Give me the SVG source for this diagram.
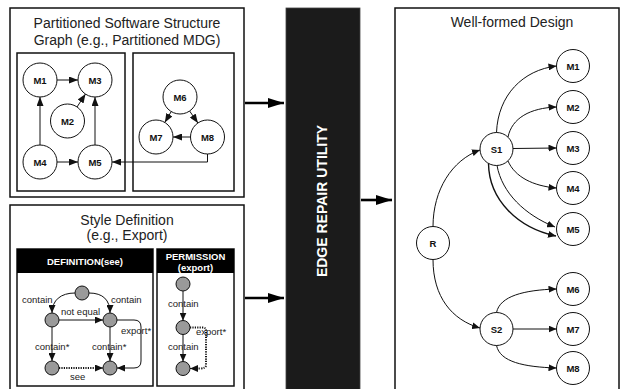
<svg xmlns="http://www.w3.org/2000/svg" width="620" height="389" viewBox="0 0 620 389">
  <style>
    .frame { fill: #fff; stroke: #111; stroke-width: 1.5; }
    .title { font-family: "Liberation Sans", Arial, sans-serif; font-size: 14px; fill: #222; text-anchor: middle; }
    .node circle { fill: #fff; stroke: #111; stroke-width: 1; }
    .node text { font-family: "Liberation Sans", Arial, sans-serif; font-size: 9.5px; font-weight: bold; fill: #111; text-anchor: middle; }
    .gnode { fill: #9a9a9a; stroke: #111; stroke-width: 1; }
    .edge { fill: none; stroke: #111; stroke-width: 1; }
    .dot { fill: none; stroke: #111; stroke-width: 2; stroke-dasharray: 1.2 1.2; }
    .big { fill: none; stroke: #000; stroke-width: 2.6; }
    .lbl { font-family: "Liberation Sans", Arial, sans-serif; font-size: 9.5px; fill: #222; }
    .hdr { font-family: "Liberation Sans", Arial, sans-serif; font-size: 9.5px; font-weight: bold; fill: #fff; text-anchor: middle; }
  </style>
  <defs>
    <marker id="arr" markerUnits="userSpaceOnUse" markerWidth="9" markerHeight="7" refX="9" refY="3.5" orient="auto">
      <path d="M0,0 L9,3.5 L0,7 z" fill="#111"/>
    </marker>
    <marker id="arrS" markerUnits="userSpaceOnUse" markerWidth="8" markerHeight="7" refX="8" refY="3.5" orient="auto">
      <path d="M0,0 L8,3.5 L0,7 z" fill="#111"/>
    </marker>
    <marker id="arrB" markerUnits="userSpaceOnUse" markerWidth="16" markerHeight="10" refX="16" refY="5" orient="auto">
      <path d="M0,0 L16,5 L0,10 z" fill="#000"/>
    </marker>
  </defs>

  <!-- Panel: partitioned structure graph -->
  <g id="panel-mdg">
    <rect class="frame" x="10" y="8" width="234" height="189"/>
    <text class="title" x="127" y="28">Partitioned Software Structure</text>
    <text class="title" x="127" y="45">Graph (e.g., Partitioned MDG)</text>
    <rect class="frame" x="17" y="53" width="108" height="138"/>
    <rect class="frame" x="133" y="53" width="101" height="138"/>
  </g>
  <g id="p-m1" class="node"><circle cx="40" cy="80" r="17"/><text x="40" y="83.5">M1</text></g>
  <g id="p-m2" class="node"><circle cx="67.5" cy="121" r="17"/><text x="67.5" y="124.5">M2</text></g>
  <g id="p-m3" class="node"><circle cx="95" cy="80" r="17"/><text x="95" y="83.5">M3</text></g>
  <g id="p-m4" class="node"><circle cx="40" cy="162" r="17"/><text x="40" y="165.5">M4</text></g>
  <g id="p-m5" class="node"><circle cx="95" cy="162" r="17"/><text x="95" y="165.5">M5</text></g>
  <g id="p-m6" class="node"><circle cx="180" cy="97" r="17"/><text x="180" y="100.5">M6</text></g>
  <g id="p-m7" class="node"><circle cx="156" cy="137" r="17"/><text x="156" y="140.5">M7</text></g>
  <g id="p-m8" class="node"><circle cx="207.5" cy="137" r="17"/><text x="207.5" y="140.5">M8</text></g>

  <!-- Panel: style definition -->
  <g id="panel-style">
    <rect class="frame" x="10" y="205" width="234" height="186"/>
    <text class="title" x="127" y="225">Style Definition</text>
    <text class="title" x="127" y="240">(e.g., Export)</text>
  </g>
  <g id="def-box">
    <rect class="frame" x="17" y="249" width="136" height="137"/>
    <rect x="17" y="249" width="136" height="24" fill="#000"/>
    <text class="hdr" x="85" y="264.5">DEFINITION(see)</text>
  </g>
  <g id="perm-box">
    <rect class="frame" x="157" y="249" width="77" height="137"/>
    <rect x="157" y="249" width="77" height="24" fill="#000"/>
    <text class="hdr" x="195.5" y="259.5">PERMISSION</text>
    <text class="hdr" x="195.5" y="271">(export)</text>
  </g>
  <g id="d-top"><circle class="gnode" cx="82" cy="293" r="7"/></g>
  <g id="d-a"><circle class="gnode" cx="52" cy="320" r="7"/></g>
  <g id="d-b"><circle class="gnode" cx="110" cy="320" r="7"/></g>
  <g id="d-c"><circle class="gnode" cx="52" cy="368" r="7"/></g>
  <g id="d-d"><circle class="gnode" cx="110" cy="368" r="7"/></g>
  <g id="q-top"><circle class="gnode" cx="183" cy="284" r="7"/></g>
  <g id="q-mid"><circle class="gnode" cx="183" cy="327.5" r="7"/></g>
  <g id="q-bot"><circle class="gnode" cx="183" cy="368.5" r="7"/></g>

  <!-- Edge repair utility bar -->
  <g id="utility">
    <rect x="286" y="8" width="74" height="384" fill="#1b1b1b" stroke="#444" stroke-width="0.8"/>
    <text transform="translate(327,201) rotate(-90)" font-family="Liberation Sans, Arial, sans-serif" font-size="14" font-weight="bold" fill="#fff" text-anchor="middle">EDGE REPAIR UTILITY</text>
  </g>

  <!-- Panel: well-formed design -->
  <g id="panel-design">
    <rect class="frame" x="395" y="8" width="224" height="386"/>
    <text class="title" x="512" y="27">Well-formed Design</text>
  </g>
  <g id="w-r" class="node"><circle cx="433" cy="243" r="16.5"/><text x="433" y="246.5">R</text></g>
  <g id="w-s1" class="node"><circle cx="496.5" cy="149" r="16.5"/><text x="496.5" y="152.5">S1</text></g>
  <g id="w-s2" class="node"><circle cx="496.5" cy="329" r="16.5"/><text x="496.5" y="332.5">S2</text></g>
  <g id="w-m1" class="node"><circle cx="573" cy="66" r="16.5"/><text x="573" y="69.5">M1</text></g>
  <g id="w-m2" class="node"><circle cx="573" cy="107" r="16.5"/><text x="573" y="110.5">M2</text></g>
  <g id="w-m3" class="node"><circle cx="573" cy="148" r="16.5"/><text x="573" y="151.5">M3</text></g>
  <g id="w-m4" class="node"><circle cx="573" cy="188" r="16.5"/><text x="573" y="191.5">M4</text></g>
  <g id="w-m5" class="node"><circle cx="573" cy="229" r="16.5"/><text x="573" y="232.5">M5</text></g>
  <g id="w-m6" class="node"><circle cx="573" cy="289" r="16.5"/><text x="573" y="292.5">M6</text></g>
  <g id="w-m7" class="node"><circle cx="573" cy="329" r="16.5"/><text x="573" y="332.5">M7</text></g>
  <g id="w-m8" class="node"><circle cx="573" cy="368" r="16.5"/><text x="573" y="371.5">M8</text></g>

  <g id="connectors">
    <!-- partitioned graph -->
    <path class="edge" d="M57,80 L78,80" marker-end="url(#arr)"/>
    <path class="edge" d="M77,107 L85.5,94" marker-end="url(#arr)"/>
    <path class="edge" d="M40,145 L40,97" marker-end="url(#arr)"/>
    <path class="edge" d="M95,145 L95,97" marker-end="url(#arr)"/>
    <path class="edge" d="M57,162 L78,162" marker-end="url(#arr)"/>
    <path class="edge" d="M171.2,111.6 L164.8,122.4" marker-end="url(#arr)"/>
    <path class="edge" d="M189.6,111 L197.9,123" marker-end="url(#arr)"/>
    <path class="edge" d="M190.5,137 L173,137" marker-end="url(#arr)"/>
    <path class="edge" d="M207.5,154 V162 H112" marker-end="url(#arr)"/>

    <!-- definition pattern -->
    <path class="edge" d="M75,293 C61,293 52,300 52,313" marker-end="url(#arrS)"/>
    <path class="edge" d="M89,293 C103,293 110,300 110,313" marker-end="url(#arrS)"/>
    <path class="edge" d="M59,320 L103,320" marker-end="url(#arrS)"/>
    <path class="edge" d="M52,327 L52,361" marker-end="url(#arrS)"/>
    <path class="edge" d="M110,327 L110,361" marker-end="url(#arrS)"/>
    <path class="edge" d="M117,320 H134 Q141,320 141,327 V361 Q141,368 134,368 H117" marker-end="url(#arrS)"/>
    <path class="dot" d="M59,368 L97,368"/>
    <path class="edge" d="M96,368 L103,368" marker-end="url(#arrS)"/>
    <text class="lbl" x="22" y="303">contain</text>
    <text class="lbl" x="111" y="303">contain</text>
    <text class="lbl" x="61" y="315">not equal</text>
    <text class="lbl" x="121" y="334">export*</text>
    <text class="lbl" x="35" y="350">contain*</text>
    <text class="lbl" x="92" y="350">contain*</text>
    <text class="lbl" x="70" y="380">see</text>

    <!-- permission pattern -->
    <path class="edge" d="M183,291 L183,320.5" marker-end="url(#arrS)"/>
    <path class="edge" d="M183,334.5 L183,361.5" marker-end="url(#arrS)"/>
    <text class="lbl" x="168" y="307">contain</text>
    <text class="lbl" x="196" y="335">export*</text>
    <text class="lbl" x="168" y="350">contain</text>
    <path class="dot" d="M190,327.5 H203 Q206,327.5 206,331 V365 Q206,368.5 200,368.5 H195"/>
    <path class="edge" d="M196,368.5 L190,368.5" marker-end="url(#arrS)"/>

    <!-- flow through the utility -->
    <path class="big" d="M245,103 L284,103" marker-end="url(#arrB)"/>
    <path class="big" d="M245,298 L284,298" marker-end="url(#arrB)"/>
    <path class="big" d="M361,200 L392,200" marker-end="url(#arrB)"/>

    <!-- well-formed design -->
    <path class="edge" d="M433,226.5 C433,190 452,160 480,150" marker-end="url(#arrS)"/>
    <path class="edge" d="M433,259.5 C433,297 452,320 480,328" marker-end="url(#arrS)"/>
    <path class="edge" d="M496.5,132.5 C498,95 523,70 556.5,66" marker-end="url(#arrS)"/>
    <path class="edge" d="M508,137 C512,118 530,108 556.5,107" marker-end="url(#arrS)"/>
    <path class="edge" d="M513,148.5 L556.5,148" marker-end="url(#arrS)"/>
    <path class="edge" d="M508,161 C515,177 533,186 556.5,188" marker-end="url(#arrS)"/>
    <path class="edge" d="M497,165.5 C502,193 525,215 555,227" marker-end="url(#arrS)"/>
    <path class="edge" style="stroke-width:1.4" d="M488.5,163.5 C489,200 518,228 556,236" marker-end="url(#arrS)"/>
    <path class="edge" d="M496.5,312.5 C500,296 524,290 556.5,289" marker-end="url(#arrS)"/>
    <path class="edge" d="M513,329 L556.5,329" marker-end="url(#arrS)"/>
    <path class="edge" d="M496.5,345.5 C500,362 524,367 556.5,368" marker-end="url(#arrS)"/>
  </g>
</svg>
